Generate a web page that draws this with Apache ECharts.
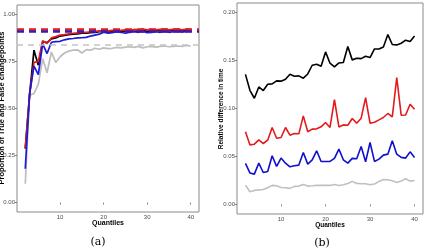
<!DOCTYPE html>
<html>
<head>
<meta charset="utf-8">
<script src="https://cdn.jsdelivr.net/npm/echarts@6/dist/echarts.min.js"></script>
<style>
html,body{margin:0;padding:0;background:#fff;}
#c{width:428px;height:250px;}
</style>
</head>
<body>
<div id="c"></div>
<script>
// Quantiles (shared x values)
var quantiles = [2,3,4,5,6,7,8,9,10,11,12,13,14,15,16,17,18,19,20,21,22,23,24,25,26,27,28,29,30,31,32,33,34,35,36,37,38,39,40];
var xTicks = [10,20,30,40];

// Panel (a): proportion of true and false changepoints
var aBlack = [0.29,0.575,0.81,0.73,0.855,0.85,0.87,0.875,0.885,0.888,0.892,0.895,0.897,0.9,0.9,0.903,0.905,0.908,0.91,0.905,0.91,0.912,0.908,0.912,0.915,0.91,0.913,0.915,0.91,0.913,0.915,0.912,0.915,0.913,0.915,0.916,0.913,0.915,0.918];
var aRed = [0.285,0.575,0.745,0.75,0.86,0.845,0.875,0.882,0.89,0.893,0.897,0.9,0.902,0.905,0.905,0.908,0.91,0.912,0.91,0.913,0.915,0.912,0.915,0.918,0.915,0.92,0.918,0.922,0.918,0.92,0.918,0.92,0.922,0.918,0.92,0.922,0.918,0.92,0.922];
var aBlue = [0.18,0.58,0.725,0.68,0.843,0.792,0.852,0.855,0.857,0.865,0.87,0.872,0.875,0.876,0.878,0.885,0.89,0.895,0.905,0.9,0.903,0.908,0.905,0.9,0.905,0.908,0.905,0.91,0.903,0.905,0.908,0.905,0.91,0.905,0.908,0.91,0.906,0.91,0.91];
var aGray = [0.1,0.57,0.58,0.63,0.765,0.69,0.8,0.745,0.775,0.795,0.805,0.81,0.812,0.795,0.813,0.81,0.82,0.815,0.822,0.818,0.82,0.825,0.822,0.826,0.828,0.825,0.83,0.822,0.828,0.83,0.826,0.83,0.832,0.828,0.83,0.832,0.83,0.835,0.832];
var aRefRed = 0.92;
var aRefBlue = 0.913;
var aRefGray = 0.843;
var aYTicks = [0,0.25,0.5,0.75,1];

// Panel (b): relative difference in time
var bBlack = [0.1356,0.119,0.1107,0.1225,0.1187,0.1253,0.1257,0.1288,0.1285,0.1305,0.1357,0.1336,0.134,0.1316,0.136,0.1451,0.1461,0.1441,0.159,0.1472,0.1434,0.1475,0.1479,0.1646,0.1507,0.1524,0.152,0.1545,0.1531,0.1621,0.1621,0.1642,0.1771,0.1667,0.1663,0.168,0.1712,0.1698,0.1756];
var bRed = [0.0757,0.0621,0.0628,0.0673,0.0635,0.067,0.0802,0.069,0.0698,0.0802,0.0722,0.074,0.0736,0.0923,0.0757,0.0785,0.0788,0.0809,0.0854,0.0802,0.1092,0.0808,0.0829,0.0826,0.0896,0.0847,0.0899,0.1114,0.0847,0.0857,0.0881,0.0906,0.0948,0.0912,0.1323,0.093,0.0932,0.1045,0.0993];
var bBlue = [0.0427,0.0328,0.0316,0.043,0.0333,0.0344,0.0507,0.0396,0.0483,0.043,0.0392,0.0403,0.041,0.0542,0.042,0.0465,0.0559,0.0448,0.0448,0.0448,0.048,0.0576,0.0465,0.043,0.048,0.0476,0.0604,0.0444,0.0646,0.0448,0.0472,0.0514,0.0524,0.0663,0.0524,0.049,0.0483,0.0548,0.049];
var bGray = [0.0201,0.0132,0.0146,0.0152,0.0156,0.0173,0.0198,0.0194,0.0177,0.0173,0.0167,0.0188,0.0191,0.0208,0.0191,0.0194,0.0198,0.0198,0.0198,0.0198,0.0208,0.0198,0.0205,0.0219,0.024,0.0219,0.0215,0.0215,0.0205,0.0212,0.024,0.026,0.0257,0.0246,0.0229,0.0243,0.0267,0.0243,0.025];
var bYTicks = [0,0.05,0.1,0.15,0.2];

function pairs(vals){ return quantiles.map(function(q,i){ return [q, vals[i]]; }); }

var labelColor = '#4d4d4d';
function xAxisCfg(idx){
  return {
    type:'value', gridIndex:idx, min:0.1, max:41.9,
    axisLine:{show:false},
    splitLine:{show:false},
    axisTick:{show:true, length:2, lineStyle:{color:'#666', width:0.8}, customValues:xTicks},
    axisLabel:{color:labelColor, fontSize:6, fontFamily:'Liberation Sans, Arial', margin:2, customValues:xTicks}
  };
}
function yAxisCfg(idx, mn, mx, ticks, dec){
  return {
    type:'value', gridIndex:idx, min:mn, max:mx,
    axisLine:{show:false},
    splitLine:{show:false},
    axisTick:{show:true, length:2, lineStyle:{color:'#666', width:0.8}, customValues:ticks},
    axisLabel:{color:labelColor, fontSize:6, fontFamily:'Liberation Sans, Arial', margin:2, customValues:ticks,
      formatter:function(v){ return v.toFixed(dec); }}
  };
}
function lineSeries(xi, vals, color, w){
  return {type:'line', xAxisIndex:xi, yAxisIndex:xi, data:pairs(vals), symbol:'none',
    lineStyle:{color:color, width:w}, itemStyle:{color:color}, animation:false, silent:true, z:3};
}
function refLine(xi, val, color, w, dash, z){
  return {type:'line', xAxisIndex:xi, yAxisIndex:xi, data:[], symbol:'none', animation:false, silent:true, z:z,
    markLine:{symbol:['none','none'], silent:true, animation:false, label:{show:false},
      lineStyle:{color:color, width:w, type:dash}, data:[{yAxis:val}]}};
}

var chart = echarts.init(document.getElementById('c'), null, {renderer:'canvas'});
chart.setOption({
  backgroundColor:'#ffffff',
  animation:false,
  grid:[
    {left:17, top:5, width:182, height:207, show:true, borderColor:'#8a8a8a', borderWidth:1, backgroundColor:'transparent'},
    {left:237, top:3, width:186, height:211, show:true, borderColor:'#8a8a8a', borderWidth:1, backgroundColor:'transparent'}
  ],
  xAxis:[xAxisCfg(0), xAxisCfg(1)],
  yAxis:[yAxisCfg(0,-0.05,1.05,aYTicks,2), yAxisCfg(1,-0.01,0.21,bYTicks,2)],
  series:[
    lineSeries(0, aGray, '#bdbdbd', 1.7),
    lineSeries(0, aBlack, '#000000', 1.7),
    lineSeries(0, aRed, '#e41a1c', 1.7),
    lineSeries(0, aBlue, '#1a1adb', 1.7),
    refLine(0, aRefGray, '#c4c4c4', 1.5, [6,5], 2),
    refLine(0, aRefRed, '#e41a1c', 2.5, [7,5], 4),
    refLine(0, aRefBlue, '#3a1ab0', 2.5, [7,5], 5),
    lineSeries(1, bGray, '#c0c0c0', 1.6),
    lineSeries(1, bBlue, '#1010cc', 1.6),
    lineSeries(1, bRed, '#e41a1c', 1.6),
    lineSeries(1, bBlack, '#000000', 1.6)
  ],
  graphic:[
    {type:'text', x:1.5, y:108, rotation:Math.PI/2, style:{text:'Proportion of True and False changepoints', fill:'#000', font:'bold 7.5px Liberation Sans, Arial', align:'center', verticalAlign:'middle'}},
    {type:'text', x:108, y:223, style:{text:'Quantiles', fill:'#000', font:'bold 7px Liberation Sans, Arial', align:'center', verticalAlign:'middle'}},
    {type:'text', x:98, y:242, style:{text:'(a)', fill:'#000', font:'11px DejaVu Serif', align:'center', verticalAlign:'middle'}},
    {type:'text', x:221, y:109, rotation:Math.PI/2, style:{text:'Relative difference in time', fill:'#000', font:'bold 6.5px Liberation Sans, Arial', align:'center', verticalAlign:'middle'}},
    {type:'text', x:330, y:225.5, style:{text:'Quantiles', fill:'#000', font:'bold 6.5px Liberation Sans, Arial', align:'center', verticalAlign:'middle'}},
    {type:'text', x:322, y:243, style:{text:'(b)', fill:'#000', font:'11px DejaVu Serif', align:'center', verticalAlign:'middle'}}
  ]
});
</script>
</body>
</html>
